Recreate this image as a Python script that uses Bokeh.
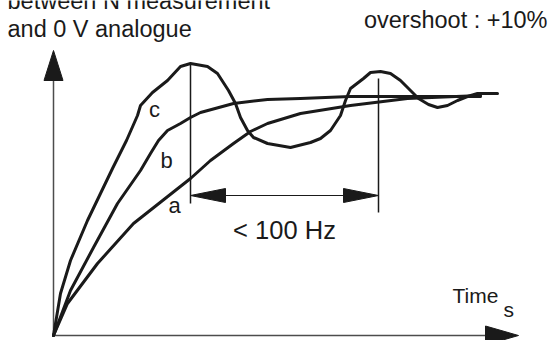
from bokeh.plotting import figure
from bokeh.models import Range1d
from bokeh.core.properties import value
from bokeh.embed import file_html
from bokeh.resources import INLINE

# ---- data (time in arbitrary units, response in arbitrary units; setpoint ~ 240) ----
c_t = [0, 7, 17, 34, 59, 73, 84, 87, 99, 114, 127, 137, 154, 164, 175, 182, 187, 194, 200, 214,
       237, 257, 267, 277, 287, 292, 297, 310, 317, 327, 337, 347, 357, 365, 375, 384, 394, 404,
       414, 424, 444]
c_v = [0, 42, 75, 115, 167, 195, 220, 230, 243, 255, 269, 272, 269, 262, 245, 232, 218, 205, 198, 192,
       188, 193, 197, 205, 220, 235, 247, 257, 263, 264, 262, 255, 245, 237, 231, 228, 230, 235,
       239, 242, 242]
b_t = [0, 17, 40, 64, 87, 97, 105, 114, 127, 137, 147, 180, 214, 247, 297, 427]
b_v = [0, 45, 88, 132, 165, 182, 195, 205, 212, 218, 223, 232, 236, 237, 239, 239]
a_t = [0, 14, 44, 80, 137, 157, 180, 197, 214, 247, 297, 354, 427]
a_v = [0, 32, 72, 112, 157, 175, 192, 204, 212, 222, 230, 237, 240]

marker_t = [137, 325]          # vertical markers
marker_top = [272, 257]
marker_bottom = [132, 123]
band_level = 140               # level of the double arrow
curve_labels = ["c", "b", "a"]
label_t = [101, 113, 121]
label_v = [226, 175, 130]

y_axis_top = 285
x_axis_end = 465

FONT = value("Liberation Sans")
INK = "#1a1a1a"
AXIS = "#4d4d4d"

W, H = 550, 340
XR = (-53, 497)
YR = (-5, 335)
p = figure(width=W, height=H, x_range=Range1d(*XR), y_range=Range1d(*YR),
           output_backend="svg", toolbar_location=None, min_border=0)
p.axis.visible = False
p.grid.visible = False
p.outline_line_color = None
p.background_fill_color = "white"
p.border_fill_color = "white"

# pixels per data unit
PX_X = W / (XR[1] - XR[0])
PX_Y = H / (YR[1] - YR[0])

def ux(px):
    return px / PX_X

def uy(px):
    return px / PX_Y

# axes
p.line([0, 0], [0, y_axis_top - uy(20)], line_color=AXIS, line_width=1.5)
p.line([0, x_axis_end - ux(20)], [0, 0], line_color=AXIS, line_width=1.5)
p.patch([-ux(9.5), ux(9.5), 0], [y_axis_top - uy(30), y_axis_top - uy(30), y_axis_top],
        fill_color=INK, line_color=INK)
p.patch([x_axis_end - ux(33), x_axis_end - ux(33), x_axis_end], [-uy(9.5), uy(9.5), 0],
        fill_color=INK, line_color=INK)

# curves
for tt, vv in ((a_t, a_v), (b_t, b_v), (c_t, c_v)):
    p.line(tt, vv, line_color=INK, line_width=3, line_join="round", line_cap="round")

# vertical markers
p.segment(x0=marker_t, y0=marker_bottom, x1=marker_t, y1=marker_top, line_color=INK, line_width=1.5)

# double arrow
t0, t1 = marker_t
p.line([t0 + ux(30), t1 - ux(30)], [band_level, band_level], line_color=INK, line_width=1.2)
hl, hw = ux(35), uy(7)
p.patch([t0, t0 + hl, t0 + hl], [band_level, band_level + hw, band_level - hw],
        fill_color=INK, line_color=INK)
p.patch([t1, t1 - hl, t1 - hl], [band_level, band_level + hw, band_level - hw],
        fill_color=INK, line_color=INK)

# texts
p.text(x=label_t, y=label_v, text=curve_labels, text_font=FONT, text_font_size=value("22px"),
       text_align="center", text_baseline="middle", text_color=INK)
p.text(x=[231], y=[106], text=["< 100 Hz"], text_font=FONT, text_font_size=value("25.5px"),
       text_align="center", text_baseline="alphabetic", text_color=INK)
p.text(x=[399], y=[40], text=["Time"], text_font=FONT, text_font_size=value("21px"),
       text_align="left", text_baseline="alphabetic", text_color=INK)
p.text(x=[450], y=[26], text=["s"], text_font=FONT, text_font_size=value("21px"),
       text_align="left", text_baseline="alphabetic", text_color=INK)
p.text(x=[494], y=[316], text=["overshoot : +10%"], text_font=FONT, text_font_size=value("23.5px"),
       text_align="right", text_baseline="alphabetic", text_color=INK)
p.text(x=[-46, -46], y=[335, 307], text=["between N measurement", "and 0 V analogue"],
       text_font=FONT, text_font_size=value("23.5px"),
       text_align="left", text_baseline="alphabetic", text_color=INK)

open("out.html", "w").write(file_html(p, INLINE))
